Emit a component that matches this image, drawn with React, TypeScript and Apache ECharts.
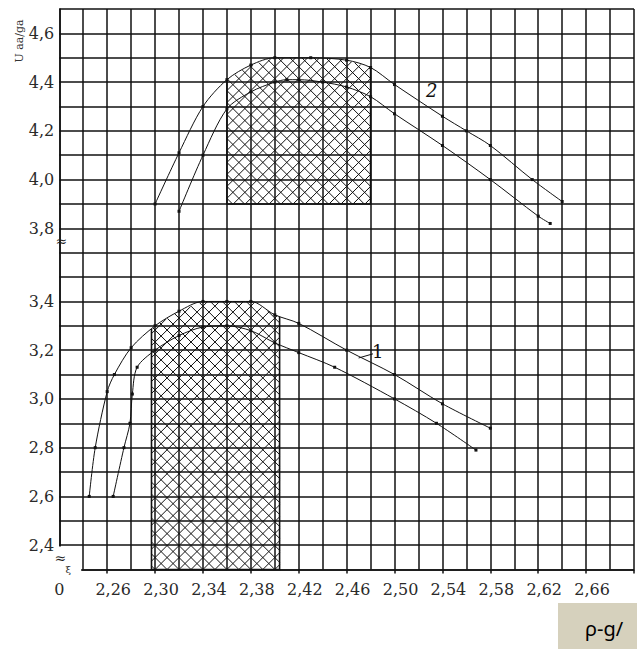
import React, { useEffect, useRef } from 'react';
import * as echarts from 'echarts';

// ---- axis geometry (value at origin and value per grid cell) ----
const X_ORIGIN = 2.22;
const X_CELL = 0.02;
const Y_ORIGIN = 2.3;
const Y_CELL = 0.1;
const Y_BREAK_SHIFT = 0.1; // the upper block of the broken y axis is shifted by one cell

// ---- tick labels ----
const xTickLabels = ['0', '2,26', '2,30', '2,34', '2,38', '2,42', '2,46', '2,50', '2,54', '2,58', '2,62', '2,66'];
const yLowerLabels = ['2,4', '2,6', '2,8', '3,0', '3,2', '3,4'];
const yUpperLabels = ['3,8', '4,0', '4,2', '4,4', '4,6'];

// ---- curve 2 (upper block), outer and inner branches ----
const curve2X = [2.30, 2.32, 2.34, 2.36, 2.38, 2.40, 2.43, 2.46, 2.48, 2.50, 2.54, 2.56, 2.58, 2.615, 2.64];
const curve2Y = [3.90, 4.11, 4.30, 4.41, 4.47, 4.50, 4.50, 4.49, 4.46, 4.39, 4.26, 4.20, 4.14, 4.00, 3.91];
const curve2bX = [2.32, 2.34, 2.36, 2.38, 2.40, 2.41, 2.42, 2.44, 2.46, 2.48, 2.50, 2.54, 2.58, 2.62, 2.63];
const curve2bY = [3.87, 4.10, 4.29, 4.36, 4.40, 4.41, 4.41, 4.40, 4.38, 4.34, 4.27, 4.14, 4.00, 3.85, 3.82];

// ---- curve 1 (lower block), outer and inner branches ----
const curve1X = [2.245, 2.25, 2.26, 2.266, 2.28, 2.30, 2.32, 2.34, 2.36, 2.38, 2.40, 2.42, 2.46, 2.50, 2.54, 2.58];
const curve1Y = [2.60, 2.80, 3.03, 3.10, 3.21, 3.30, 3.36, 3.40, 3.40, 3.40, 3.345, 3.31, 3.20, 3.10, 2.98, 2.88];
const curve1bX = [2.265, 2.274, 2.279, 2.281, 2.285, 2.30, 2.32, 2.34, 2.36, 2.38, 2.40, 2.42, 2.45, 2.50, 2.535, 2.568];
const curve1bY = [2.60, 2.80, 2.90, 3.02, 3.13, 3.20, 3.26, 3.295, 3.30, 3.28, 3.23, 3.19, 3.13, 3.00, 2.90, 2.79];

// ---- hatched ranges (x from, x to, base value) ----
const hatch2Range = [2.36, 2.48, 3.9];
const hatch1Range = [2.297, 2.404, 2.3];

const toU = (x: number) => (x - X_ORIGIN) / X_CELL;
const toVLower = (y: number) => (y - Y_ORIGIN) / Y_CELL;
const toVUpper = (y: number) => (y - Y_BREAK_SHIFT - Y_ORIGIN) / Y_CELL;

const interp = (xs: number[], ys: number[], x: number) => {
  for (let i = 0; i < xs.length - 1; i++) {
    if (x >= xs[i] && x <= xs[i + 1]) {
      const t = (x - xs[i]) / (xs[i + 1] - xs[i]);
      return ys[i] + t * (ys[i + 1] - ys[i]);
    }
  }
  return x < xs[0] ? ys[0] : ys[ys.length - 1];
};

const INK = '#111';
const FONT = 'DejaVu Serif';

export default function App() {
  const ref = useRef<HTMLDivElement>(null);

  useEffect(() => {
    const chart = echarts.init(ref.current!, null, { renderer: 'svg' });

    const regions = [
      { xs: curve2X, ys: curve2Y, range: hatch2Range, toV: toVUpper },
      { xs: curve1X, ys: curve1Y, range: hatch1Range, toV: toVLower },
    ];

    const lineSeries = (xs: number[], ys: number[], toV: (y: number) => number) => ({
      type: 'line',
      data: xs.map((x, i) => [toU(x), toV(ys[i])]),
      symbol: 'rect',
      symbolSize: 3,
      showSymbol: true,
      smooth: 0.3,
      silent: true,
      z: 4,
      lineStyle: { color: INK, width: 1 },
      itemStyle: { color: INK },
    });

    const renderHatch = (params: any, api: any) => {
      const reg = regions[params.dataIndex];
      const [from, to, base] = reg.range;
      const dataPoly: number[][] = [];
      dataPoly.push([toU(from), reg.toV(base)]);
      dataPoly.push([toU(from), reg.toV(interp(reg.xs, reg.ys, from))]);
      reg.xs.forEach((x, i) => {
        if (x > from && x < to) dataPoly.push([toU(x), reg.toV(reg.ys[i])]);
      });
      dataPoly.push([toU(to), reg.toV(interp(reg.xs, reg.ys, to))]);
      dataPoly.push([toU(to), reg.toV(base)]);
      const pts = dataPoly.map((p) => api.coord(p));
      const o = api.coord([0, 0]);
      const cell = api.size([1, 1]);
      const step = cell[0] / 2;
      const children: any[] = [];
      for (const sg of [1, -1]) {
        const cs = pts.map((p: number[]) => p[0] + sg * p[1]);
        const cO = o[0] + sg * o[1];
        const k0 = Math.ceil((Math.min(...cs) - cO) / step);
        const k1 = Math.floor((Math.max(...cs) - cO) / step);
        for (let k = k0; k <= k1; k++) {
          const c = cO + k * step;
          const hits: number[][] = [];
          for (let i = 0; i < pts.length; i++) {
            const a = pts[i];
            const b = pts[(i + 1) % pts.length];
            const fa = a[0] + sg * a[1] - c;
            const fb = b[0] + sg * b[1] - c;
            if ((fa < 0 && fb >= 0) || (fa >= 0 && fb < 0)) {
              const t = fa / (fa - fb);
              hits.push([a[0] + t * (b[0] - a[0]), a[1] + t * (b[1] - a[1])]);
            }
          }
          if (hits.length >= 2) {
            hits.sort((p, q) => p[0] - q[0]);
            const p = hits[0];
            const q = hits[hits.length - 1];
            if (q[0] - p[0] > 0.5) {
              children.push({
                type: 'line',
                shape: { x1: p[0], y1: p[1], x2: q[0], y2: q[1] },
                style: { stroke: INK, lineWidth: 1 },
              });
            }
          }
        }
      }
      const n = pts.length;
      children.push({
        type: 'polyline',
        shape: { points: [pts[1], pts[0], pts[n - 1], pts[n - 2]] },
        style: { fill: 'none', stroke: INK, lineWidth: 1.6 },
      });
      return { type: 'group', children, silent: true };
    };

    const labelStyle = { fontFamily: FONT, fontSize: 16, color: '#2a2a2a' };

    chart.setOption({
      animation: false,
      backgroundColor: '#fff',
      grid: { left: 59.3, top: 9, width: 24 * 24.37, height: 23 * 24.37, containLabel: false },
      xAxis: [
        {
          type: 'value',
          min: 0,
          max: 24,
          interval: 1,
          axisLine: { show: true, lineStyle: { color: INK, width: 1.5 } },
          axisTick: { show: false },
          axisLabel: { show: false },
          splitLine: { show: true, lineStyle: { color: INK, width: 1.5 } },
        },
        {
          type: 'value',
          gridIndex: 0,
          position: 'bottom',
          min: 0,
          max: 24,
          interval: 2,
          axisLine: { show: false },
          splitLine: { show: false },
          axisTick: { show: true, length: 4, lineStyle: { color: INK, width: 1.5 } },
          axisLabel: {
            ...labelStyle,
            margin: 12,
            padding: [0, 0, 0, 12],
            formatter: (val: number) => {
              const u = Math.round(val);
              const i = u / 2;
              if (u % 2 !== 0 || i >= xTickLabels.length) return '';
              return i === 0 ? '{z|' + xTickLabels[0] + '}' : xTickLabels[i];
            },
            rich: { z: { ...labelStyle, padding: [0, 12, 0, 0] } },
          },
        },
      ],
      yAxis: {
        type: 'value',
        min: 0,
        max: 23,
        interval: 1,
        axisLine: { show: true, lineStyle: { color: INK, width: 1.5 } },
        axisTick: { show: false },
        splitLine: { show: true, lineStyle: { color: INK, width: 1.5 } },
        axisLabel: {
          ...labelStyle,
          margin: 5,
          formatter: (val: number) => {
            const v = Math.round(val);
            if (v <= 11 && v % 2 === 1) return yLowerLabels[(v - 1) / 2];
            if (v >= 14 && v % 2 === 0) return yUpperLabels[(v - 14) / 2] ?? '';
            return '';
          },
        },
      },
      series: [
        {
          type: 'custom',
          coordinateSystem: 'cartesian2d',
          data: [[0, 0], [1, 0]],
          renderItem: renderHatch,
          silent: true,
          z: 3,
        },
        lineSeries(curve2X, curve2Y, toVUpper),
        lineSeries(curve2bX, curve2bY, toVUpper),
        lineSeries(curve1X, curve1Y, toVLower),
        lineSeries(curve1bX, curve1bY, toVLower),
      ],
    });

    const px = (u: number, v: number) => chart.convertToPixel({ seriesIndex: 1 }, [u, v]) as number[];
    const corner = px(0, 1);
    const corner2 = px(1, 0);
    const brk = px(0, 13.5);
    const lab2 = px(toU(2.531), toVUpper(4.364));
    const lead1a = px(toU(2.47), toVLower(3.168));
    const lead1b = px(toU(2.482), toVLower(3.185));
    const lab1 = px(toU(2.486), toVLower(3.195));

    chart.setOption({
      graphic: [
        {
          type: 'rect',
          shape: {
            x: corner[0] - 3.5,
            y: corner[1] + 1.3,
            width: corner2[0] - 2 - (corner[0] - 3.5),
            height: corner2[1] + 5.5 - (corner[1] + 1.3),
          },
          style: { fill: '#fff' },
          z: 10,
        },
        {
          type: 'text',
          x: corner[0] + 1,
          y: corner[1] + 13,
          style: { text: '≈', font: '14px ' + FONT, fill: '#222', align: 'center', verticalAlign: 'middle' },
          z: 11,
        },
        {
          type: 'text',
          x: corner[0] + 9,
          y: corner[1] + 24,
          style: { text: 'ξ', font: '10px ' + FONT, fill: '#333', align: 'center', verticalAlign: 'middle' },
          z: 11,
        },
        {
          type: 'text',
          x: brk[0] + 2,
          y: brk[1],
          style: { text: '≈', font: '14px ' + FONT, fill: '#222', align: 'center', verticalAlign: 'middle' },
          z: 11,
        },
        {
          type: 'text',
          x: lab2[0],
          y: lab2[1],
          style: { text: '2', font: 'italic 18px ' + FONT, fill: '#111', align: 'center', verticalAlign: 'middle' },
          z: 11,
        },
        {
          type: 'line',
          shape: { x1: lead1a[0], y1: lead1a[1], x2: lead1b[0], y2: lead1b[1] },
          style: { stroke: '#111', lineWidth: 1 },
          z: 11,
        },
        {
          type: 'text',
          x: lab1[0],
          y: lab1[1],
          style: { text: '1', font: '18px ' + FONT, fill: '#111', align: 'center', verticalAlign: 'middle' },
          z: 11,
        },
        {
          type: 'text',
          x: 19,
          y: 41,
          rotation: Math.PI / 2,
          style: { text: 'U aa/ga', font: '11px ' + FONT, fill: '#333', align: 'center', verticalAlign: 'middle' },
          z: 11,
        },
        {
          type: 'rect',
          shape: { x: 558, y: 603, width: 79, height: 46 },
          style: { fill: '#d6d1bd' },
          z: 11,
        },
        {
          type: 'text',
          x: 585,
          y: 628,
          style: { text: 'ρ-g/', font: '20px "Noto Sans"', fill: '#000', align: 'left', verticalAlign: 'middle' },
          z: 12,
        },
      ],
    });

    return () => chart.dispose();
  }, []);

  return (
    <div
      ref={ref}
      style={{ position: 'absolute', left: 0, top: 0, width: 637, height: 649, overflow: 'hidden', background: '#fff' }}
    />
  );
}
